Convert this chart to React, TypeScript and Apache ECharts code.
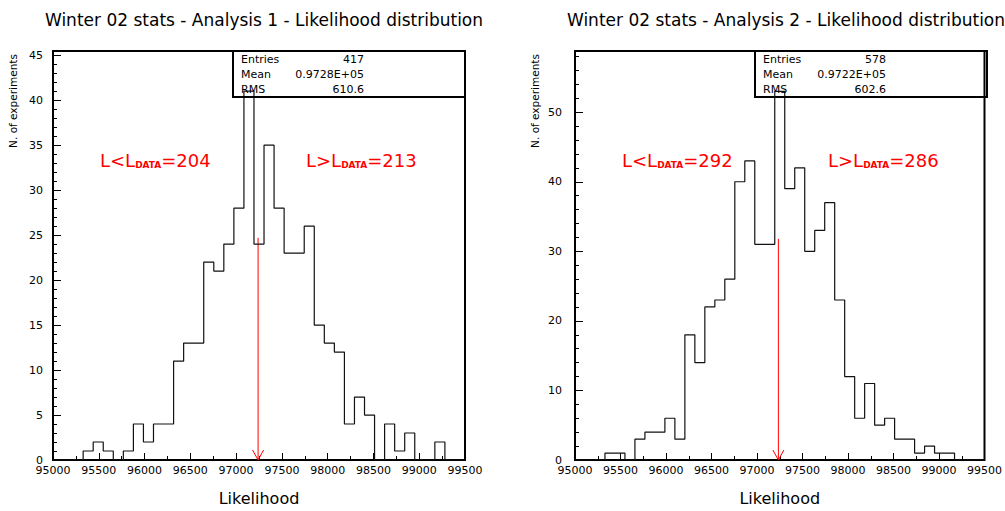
import React, { useEffect, useRef } from "react";
import * as echarts from "echarts";

// ---- data ----
const X_MIN = 95000;
const X_MAX = 99500;
const N_BINS = 41;

const counts1 = [0, 0, 0, 1, 2, 1, 0, 1, 4, 2, 4, 4, 11, 13, 13, 22, 21, 24, 28, 41, 24, 35, 28, 23, 23, 26, 15, 13, 12, 4, 7, 5, 0, 4, 1, 3, 0, 0, 2, 0, 0];
const counts2 = [0, 0, 0, 1, 1, 0, 3, 4, 4, 6, 3, 18, 14, 22, 23, 26, 40, 43, 31, 31, 53, 39, 42, 30, 33, 37, 23, 12, 6, 11, 5, 6, 3, 3, 1, 2, 1, 1, 0, 0, 0];

const titles = [
  "Winter 02 stats - Analysis 1 - Likelihood distribution",
  "Winter 02 stats - Analysis 2 - Likelihood distribution",
];
const statLabels = ["Entries", "Mean", "RMS"];
const statValues1 = ["417", "0.9728E+05", "610.6"];
const statValues2 = ["578", "0.9722E+05", "602.6"];
const lowerCounts = [204, 292];
const upperCounts = [213, 286];
const dataLikelihood = [97240, 97235];
const arrowTop = [24.7, 31.8];
const yMax = [45.47, 58.8];
const yMajor = [5, 10];
const yMinor = [1, 2];
const xMajor = 500;
const xMinor = 250;
const xTitle = "Likelihood";
const yTitle = "N. of experiments";

const FONT = "'DejaVu Sans', Verdana, sans-serif";
const RED = "#ff0000";

function stepData(counts: number[]) {
  const w = (X_MAX - X_MIN) / N_BINS;
  const pts: number[][] = counts.map((c, i) => [X_MIN + i * w, c]);
  pts.push([X_MAX, counts[counts.length - 1]]);
  pts.push([X_MAX, 0]);
  return pts;
}

const arrowRender = (params: any, api: any) => {
  const top = api.coord([api.value(0), api.value(1)]);
  const bot = api.coord([api.value(0), 0]);
  return {
    type: "group",
    children: [
      { type: "line", shape: { x1: top[0], y1: top[1], x2: bot[0], y2: bot[1] }, style: { stroke: RED, lineWidth: 1 } },
      {
        type: "polyline",
        shape: { points: [[bot[0] - 5.5, bot[1] - 10], [bot[0], bot[1]], [bot[0] + 5.5, bot[1] - 10]] },
        style: { stroke: RED, fill: "none", lineWidth: 1 },
      },
    ],
  };
};

function buildOption() {
  const grids = [
    { left: 53, top: 51, width: 412, height: 410 },
    { left: 575, top: 51, width: 412, height: 410 },
  ];
  const statValues = [statValues1, statValues2];
  const xAxis: any[] = [];
  const yAxis: any[] = [];
  [0, 1].forEach((i) => {
    xAxis.push({
      type: "value",
      gridIndex: i,
      position: "bottom",
      min: X_MIN,
      max: X_MAX,
      interval: xMajor,
      axisLine: { show: false },
      axisTick: { show: true, inside: true, length: 7, lineStyle: { color: "#000", width: 1 } },
      splitLine: { show: false },
      axisLabel: {
        color: "#000",
        fontSize: 11,
        fontFamily: FONT,
        margin: 5,
        showMinLabel: true,
        showMaxLabel: true,
        formatter: (v: number) => String(v),
      },
      name: xTitle,
      nameLocation: "middle",
      nameGap: 30,
      nameTextStyle: { fontSize: 16, color: "#000", fontFamily: FONT },
    });
    xAxis.push({
      type: "value",
      gridIndex: i,
      position: "bottom",
      min: X_MIN,
      max: X_MAX,
      interval: xMinor,
      axisLine: { show: false },
      axisTick: { show: true, inside: true, length: 4, lineStyle: { color: "#000", width: 1 } },
      splitLine: { show: false },
      axisLabel: { show: false },
    });
    yAxis.push({
      type: "value",
      gridIndex: i,
      position: "left",
      min: 0,
      max: yMax[i],
      interval: yMajor[i],
      axisLine: { show: false },
      axisTick: { show: true, inside: true, length: 8, lineStyle: { color: "#000", width: 1 } },
      splitLine: { show: false },
      axisLabel: { color: "#000", fontSize: 11, fontFamily: FONT, margin: i === 0 ? 10 : 13, showMaxLabel: false },
    });
    yAxis.push({
      type: "value",
      gridIndex: i,
      position: "left",
      min: 0,
      max: yMax[i],
      interval: yMinor[i],
      axisLine: { show: false },
      axisTick: { show: true, inside: true, length: 4, lineStyle: { color: "#000", width: 1 } },
      splitLine: { show: false },
      axisLabel: { show: false },
    });
  });

  const graphic: any[] = [];
  [0, 1].forEach((i) => {
    const g = grids[i];
    // y title
    graphic.push({
      type: "text",
      x: g.left - 40,
      y: 101,
      rotation: Math.PI / 2,
      style: { text: yTitle, fill: "#000", fontSize: 10.5, fontFamily: FONT, align: "center", verticalAlign: "middle" },
    });
    // stat box
    const bx = g.left + g.width - 232;
    graphic.push({
      type: "rect",
      shape: { x: bx, y: g.top, width: 232, height: 46 },
      style: { stroke: "#000", lineWidth: 2, fill: "none" },
      z: 10,
    });
    statLabels.forEach((lab, r) => {
      graphic.push({
        type: "text",
        x: bx + 8,
        y: 59 + r * 15.2,
        style: { text: lab, fill: "#000", fontSize: 11, fontFamily: FONT, align: "left", verticalAlign: "middle" },
        z: 10,
      });
      graphic.push({
        type: "text",
        x: bx + 131,
        y: 59 + r * 15.2,
        style: { text: statValues[i][r], fill: "#000", fontSize: 11, fontFamily: FONT, align: "right", verticalAlign: "middle" },
        z: 10,
      });
    });
    // annotations
    const rich = {
      a: { fontSize: 18, fontFamily: FONT, fill: RED, verticalAlign: "bottom" },
      b: { fontSize: 9, fontFamily: FONT, fontWeight: "bold", fill: RED, verticalAlign: "bottom", lineHeight: 5 },
    };
    graphic.push({
      type: "text",
      x: g.left + 47,
      y: 160,
      style: { text: `{a|L<L}{b|DATA}{a|=${lowerCounts[i]}}`, rich, align: "left", verticalAlign: "middle" },
      z: 10,
    });
    graphic.push({
      type: "text",
      x: g.left + 253,
      y: 160,
      style: { text: `{a|L>L}{b|DATA}{a|=${upperCounts[i]}}`, rich, align: "left", verticalAlign: "middle" },
      z: 10,
    });
  });

  return {
    animation: false,
    backgroundColor: "#fff",
    title: [0, 1].map((i) => ({
      text: titles[i],
      left: grids[i].left + grids[i].width / 2,
      top: 6,
      textAlign: "center",
      textStyle: { fontSize: 17, fontWeight: "normal", color: "#000", fontFamily: FONT },
    })),
    grid: grids.map((g) => ({ ...g, show: true, borderColor: "#000", borderWidth: 2, backgroundColor: "transparent" })),
    xAxis,
    yAxis,
    series: [
      {
        type: "line",
        xAxisIndex: 0,
        yAxisIndex: 0,
        data: stepData(counts1),
        step: "end",
        symbol: "none",
        lineStyle: { color: "#111", width: 1.2 },
        silent: true,
      },
      {
        type: "line",
        xAxisIndex: 2,
        yAxisIndex: 2,
        data: stepData(counts2),
        step: "end",
        symbol: "none",
        lineStyle: { color: "#111", width: 1.2 },
        silent: true,
      },
      { type: "custom", xAxisIndex: 0, yAxisIndex: 0, data: [[dataLikelihood[0], arrowTop[0]]], renderItem: arrowRender, silent: true },
      { type: "custom", xAxisIndex: 2, yAxisIndex: 2, data: [[dataLikelihood[1], arrowTop[1]]], renderItem: arrowRender, silent: true },
    ],
    graphic,
  };
}

export default function App() {
  const ref = useRef<HTMLDivElement>(null);
  useEffect(() => {
    const chart = echarts.init(ref.current as HTMLDivElement, null, { renderer: "svg" });
    chart.setOption(buildOption() as any);
    return () => chart.dispose();
  }, []);
  return (
    <div
      ref={ref}
      style={{ position: "fixed", left: 0, top: 0, width: 1005, height: 511, background: "#fff" }}
    />
  );
}
